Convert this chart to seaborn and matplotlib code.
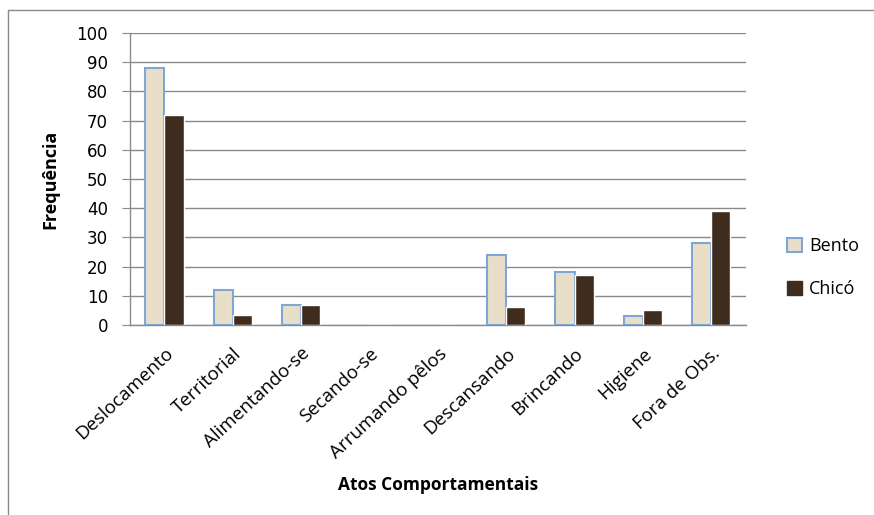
import pandas as pd
import matplotlib
matplotlib.use("Agg")
import matplotlib.pyplot as plt
import seaborn as sns
from matplotlib.lines import Line2D

# dados
atos = ["Deslocamento", "Territorial", "Alimentando-se", "Secando-se",
        "Arrumando pêlos", "Descansando", "Brincando", "Higiene", "Fora de Obs."]
bento = [88, 12, 7, 0, 0, 24, 18, 3, 28]
chico = [72, 3.5, 7, 0, 0, 6, 17, 5, 39]
yticks = [0, 10, 20, 30, 40, 50, 60, 70, 80, 90, 100]

df = pd.DataFrame({
    "ato": atos * 2,
    "freq": bento + chico,
    "animal": ["Bento"] * len(atos) + ["Chicó"] * len(atos),
})

sns.set_style("white")
plt.rcParams["font.family"] = ["Open Sans", "DejaVu Sans"]
plt.rcParams["text.color"] = "black"
plt.rcParams["axes.labelcolor"] = "black"

fig = plt.figure(figsize=(8.74, 5.15), dpi=100)
ax = fig.add_axes([0.149, 0.369, 0.704, 0.567])

cores = {"Bento": "#e9dfc9", "Chicó": "#3e2c1f"}
sns.barplot(data=df, x="ato", y="freq", hue="animal", palette=cores,
            width=0.56, saturation=1, ax=ax, legend=False, zorder=3)

# borda azul nas barras do Bento (nao nas barras vazias)
for bar in ax.containers[0]:
    if bar.get_height() > 0:
        bar.set_edgecolor("#7fa6d4")
        bar.set_linewidth(1.5)
    else:
        bar.set_linewidth(0)

ax.set_ylim(0, 100)
ax.set_yticks(yticks)
ax.set_yticklabels([str(v) for v in yticks], fontfamily="DejaVu Sans", fontsize=12)
ax.yaxis.grid(True, color="#8a8a8a", linewidth=1, zorder=0)
ax.set_axisbelow(True)
ax.tick_params(axis="y", length=6, color="#8a8a8a", left=True, pad=10, labelcolor="black")
ax.tick_params(axis="x", length=0, pad=14, labelcolor="black")
plt.setp(ax.get_xticklabels(), rotation=43, ha="right", rotation_mode="anchor", fontsize=13.5)

for s in ["top", "right"]:
    ax.spines[s].set_visible(False)
for s in ["left", "bottom"]:
    ax.spines[s].set_color("#8a8a8a")
    ax.spines[s].set_linewidth(1)

ax.set_xlabel("Atos Comportamentais", fontsize=12.5, fontweight="bold", labelpad=10)
ax.set_ylabel("Frequência", fontsize=13, fontweight="bold", labelpad=12)

handles = [plt.Rectangle((0, 0), 1, 1, facecolor=cores["Bento"], edgecolor="#7fa6d4", linewidth=1.5),
           plt.Rectangle((0, 0), 1, 1, facecolor=cores["Chicó"], edgecolor=cores["Chicó"])]
fig.legend(handles, ["Bento", "Chicó"], loc="center left", bbox_to_anchor=(0.882, 0.48),
           frameon=False, fontsize=13, handlelength=0.8, handleheight=0.8,
           labelspacing=1.4, handletextpad=0.4)

# moldura cinza (esquerda e topo)
fig.add_artist(Line2D([0.0092, 0.0092], [0, 0.981], transform=fig.transFigure, color="#8a8a8a", lw=1))
fig.add_artist(Line2D([0.0092, 1], [0.981, 0.981], transform=fig.transFigure, color="#8a8a8a", lw=1))

fig.savefig("out.png", dpi=100)
